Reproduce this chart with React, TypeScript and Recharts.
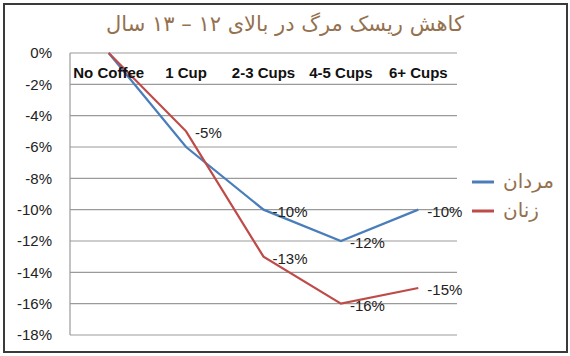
import React from 'react';
import { LineChart, Line, XAxis, YAxis, CartesianGrid, Legend, LabelList } from 'recharts';

const categories = ['No Coffee', '1 Cup', '2-3 Cups', '4-5 Cups', '6+ Cups'];
const menValues = [0, -6, -10, -12, -10];
const womenValues = [0, -5, -13, -16, -15];
const menLabels = [null, null, '-10%', '-12%', '-10%'];
const womenLabels = [null, '-5%', '-13%', '-16%', '-15%'];
const yTicks = [0, -2, -4, -6, -8, -10, -12, -14, -16, -18];
const title = 'کاهش ریسک مرگ در بالای ۱۲ – ۱۳ سال';
const menName = 'مردان';
const womenName = 'زنان';

const data = categories.map((c, i) => ({
  name: c,
  men: menValues[i],
  women: womenValues[i],
  menLabel: menLabels[i],
  womenLabel: womenLabels[i],
}));

const BLUE = '#4A7EBB';
const RED = '#BE4B48';
const BROWN = '#94714F';
const LATIN = '"Liberation Sans", Arial, sans-serif';
const PERSIAN = '"DejaVu Sans", sans-serif';

const CatTick = (props: any) => {
  const { x, y, payload } = props;
  return (
    <text x={x} y={y} dy={25} textAnchor="middle" fontFamily={LATIN} fontWeight="bold" fontSize={15} fill="#111">
      {payload.value}
    </text>
  );
};

const PointLabel = (props: any) => {
  const { x, y, value } = props;
  if (value === null || value === undefined) return null;
  return (
    <text x={x} y={y} dx={9} dy={3} dominantBaseline="middle" textAnchor="start" fontFamily={LATIN} fontSize={15} fill="#222">
      {value}
    </text>
  );
};

const LegendContent = () => {
  const items = [
    { name: menName, color: BLUE },
    { name: womenName, color: RED },
  ];
  return (
    <div>
      {items.map((it) => (
        <div key={it.name} style={{ display: 'flex', alignItems: 'center', height: 29 }}>
          <svg width={22} height={4} style={{ marginRight: 9 }}>
            <line x1={0} y1={2} x2={22} y2={2} stroke={it.color} strokeWidth={3} />
          </svg>
          <span style={{ fontFamily: PERSIAN, fontSize: 20, color: BROWN, direction: 'rtl', lineHeight: '29px' }}>{it.name}</span>
        </div>
      ))}
    </div>
  );
};

export default function App() {
  return (
    <div style={{ position: 'absolute', left: 0, top: 0, width: 570, height: 356, background: '#fff' }}>
      <div
        style={{
          position: 'absolute',
          left: 3,
          top: 3,
          width: 565,
          height: 350,
          border: '2px solid #3a3a3a',
          boxSizing: 'border-box',
        }}
      />
      <svg style={{ position: 'absolute', left: 0, top: 0 }} width={570} height={50}>
        <text x={285} y={25} textAnchor="middle" dominantBaseline="middle" direction="rtl" fontFamily={PERSIAN} fontSize={21} fill={BROWN}>
          {title}
        </text>
      </svg>
      <div style={{ position: 'absolute', left: 0, top: 0 }}>
        <LineChart width={570} height={356} data={data} margin={{ top: 33, right: 113, bottom: 21, left: 10 }}>
          <CartesianGrid vertical={false} stroke="#9a9a9a" strokeWidth={1.2} />
          <XAxis
            dataKey="name"
            orientation="top"
            height={20}
            scale="band"
            axisLine={false}
            tickLine={false}
            tickSize={0}
            tickMargin={0}
            interval={0}
            tick={<CatTick />}
          />
          <YAxis
            domain={[-18, 0]}
            ticks={yTicks}
            interval={0}
            width={60}
            axisLine={{ stroke: '#9a9a9a', strokeWidth: 1.2 }}
            tickLine={false}
            tickSize={0}
            tickMargin={18}
            tickFormatter={(v: number) => `${v}%`}
            tick={{ fontFamily: LATIN, fontSize: 15, fill: '#222' }}
          />
          <Legend
            layout="vertical"
            align="center"
            verticalAlign="middle"
            wrapperStyle={{ left: 472, top: 167, width: 90 }}
            content={<LegendContent />}
          />
          <Line type="linear" dataKey="men" name={menName} stroke={BLUE} strokeWidth={2.25} dot={false} isAnimationActive={false}>
            <LabelList dataKey="menLabel" content={<PointLabel />} />
          </Line>
          <Line type="linear" dataKey="women" name={womenName} stroke={RED} strokeWidth={2.25} dot={false} isAnimationActive={false}>
            <LabelList dataKey="womenLabel" content={<PointLabel />} />
          </Line>
        </LineChart>
      </div>
    </div>
  );
}
